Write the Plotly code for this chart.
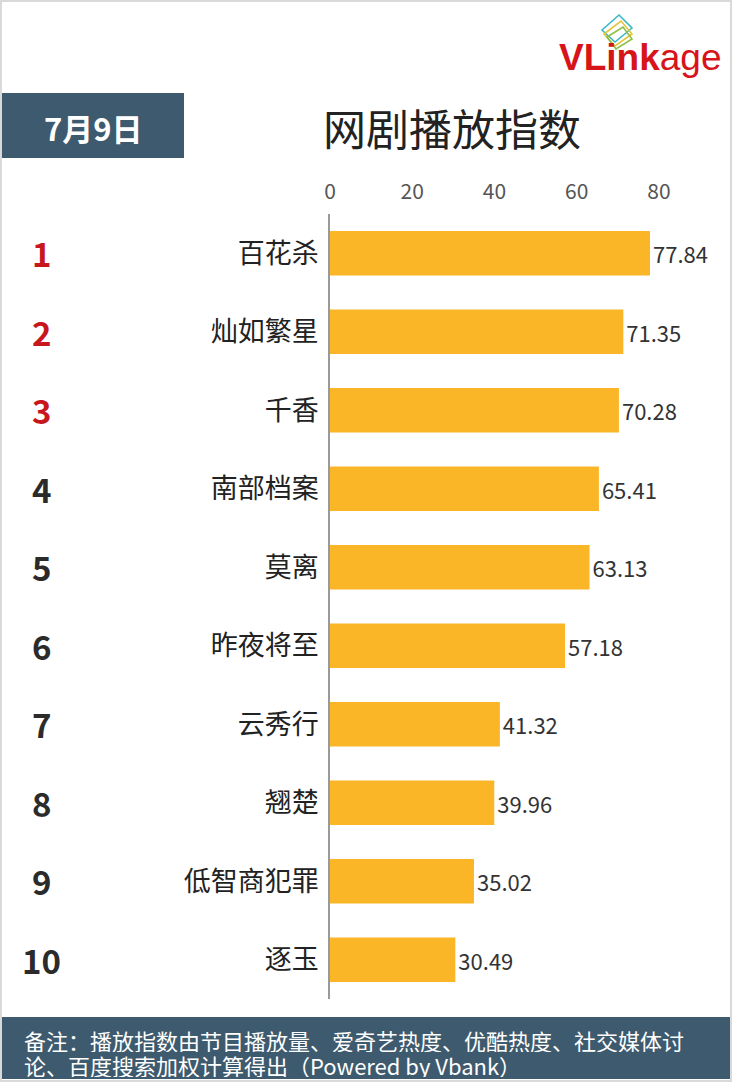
import plotly.graph_objects as go

W, H = 732, 1082
# plot area in pixels
L, R, T, B = 330, 700, 214, 999

ranks = ["1", "2", "3", "4", "5", "6", "7", "8", "9", "10"]
shows = ["百花杀", "灿如繁星", "千香", "南部档案", "莫离",
         "昨夜将至", "云秀行", "翘楚", "低智商犯罪", "逐玉"]
scores = [77.84, 71.35, 70.28, 65.41, 63.13, 57.18, 41.32, 39.96, 35.02, 30.49]
x_ticks = [0, 20, 40, 60, 80]

date_text = "7月9日"
title_text = "网剧播放指数"
note_lines = ["备注：播放指数由节目播放量、爱奇艺热度、优酷热度、社交媒体讨",
              "论、百度搜索加权计算得出（Powered by Vbank）"]

CJK = "Noto Sans CJK SC"
BOX = "#3e5a6e"
RED = "#c8161d"


def px(x):
    return (x - L) / (R - L)


def py(y):
    return (B - y) / (B - T)


fig = go.Figure(go.Bar(
    x=scores, y=shows, orientation="h",
    marker=dict(color="#fbb628", line=dict(width=0)),
    width=0.57,
    text=[f"{v:.2f}" for v in scores],
    textposition="outside",
    textfont=dict(family=CJK, size=22, color="#333333"),
    cliponaxis=False,
))

shapes = [
    # outer frame
    dict(type="rect", xref="paper", yref="paper", x0=px(1), x1=px(W - 1),
         y0=py(1), y1=py(H - 1), line=dict(color="#d9d9d9", width=2), layer="below"),
    # date box
    dict(type="rect", xref="paper", yref="paper", x0=px(2), x1=px(184),
         y0=py(93), y1=py(158), fillcolor=BOX, line=dict(width=0), layer="below"),
    # footer box
    dict(type="rect", xref="paper", yref="paper", x0=px(2), x1=px(730),
         y0=py(1017), y1=py(1079), fillcolor=BOX, line=dict(width=0), layer="below"),
]

# logo icon: three tilted frames
icon = [((602, 30), (619, 15), (632, 28), (615, 42), "#3ab8c8"),
        ((604, 34), (621, 21), (632, 34), (615, 46), "#e6c43a"),
        ((607, 37), (623, 27), (632, 39), (616, 49), "#8cbf45")]
for a, b, c, d, col in icon:
    path = "M " + " L ".join(f"{px(x)},{py(y)}" for x, y in (a, b, c, d)) + " Z"
    shapes.append(dict(type="path", xref="paper", yref="paper", path=path,
                       line=dict(color=col, width=1.6)))

annotations = [
    dict(text=date_text, x=px(93), y=py(127), xanchor="center", yanchor="middle",
         font=dict(family=CJK, size=31, color="white", weight="bold")),
    dict(text=title_text, x=px(452), y=py(127), xanchor="center", yanchor="middle",
         font=dict(family=CJK, size=43, color="#222222")),
    dict(text="<b>VLink</b>age", x=px(723), y=py(57), xanchor="right", yanchor="middle",
         font=dict(family="Liberation Sans", size=37, color="#d7141a")),
    dict(text=note_lines[0], x=px(22), y=py(1040), xanchor="left", yanchor="middle",
         height=24, font=dict(family=CJK, size=22, color="white")),
    dict(text=note_lines[1], x=px(22), y=py(1065), xanchor="left", yanchor="middle",
         height=24, font=dict(family=CJK, size=22, color="white")),
]
for a in annotations:
    a.update(xref="paper", yref="paper", showarrow=False)

for i, (rk, name) in enumerate(zip(ranks, shows)):
    annotations.append(dict(
        text=rk, x=px(41), y=name, xref="paper", yref="y", showarrow=False,
        xanchor="center", yanchor="middle",
        font=dict(family=CJK, size=33, weight="bold", color=RED if i < 3 else "#2b2b2b")))

fig.update_layout(
    width=W, height=H,
    margin=dict(l=L, r=W - R, t=T, b=H - B),
    paper_bgcolor="white", plot_bgcolor="white",
    showlegend=False,
    shapes=shapes,
    annotations=annotations,
    xaxis=dict(side="top", range=[0, 90], tickvals=x_ticks, showgrid=False,
               zeroline=False, showline=False, ticks="",
               tickfont=dict(family=CJK, size=21, color="#555555"),
               ticklabelstandoff=10),
    yaxis=dict(categoryorder="array", categoryarray=shows, autorange="reversed",
               showline=True, linecolor="#9a9a9a", linewidth=1.5, showgrid=False,
               ticks="", tickfont=dict(family=CJK, size=27, color="#222222"),
               ticklabelstandoff=4),
)

fig.write_html("out.html", config={"displayModeBar": False},
               post_script="document.body.style.margin='0';")
